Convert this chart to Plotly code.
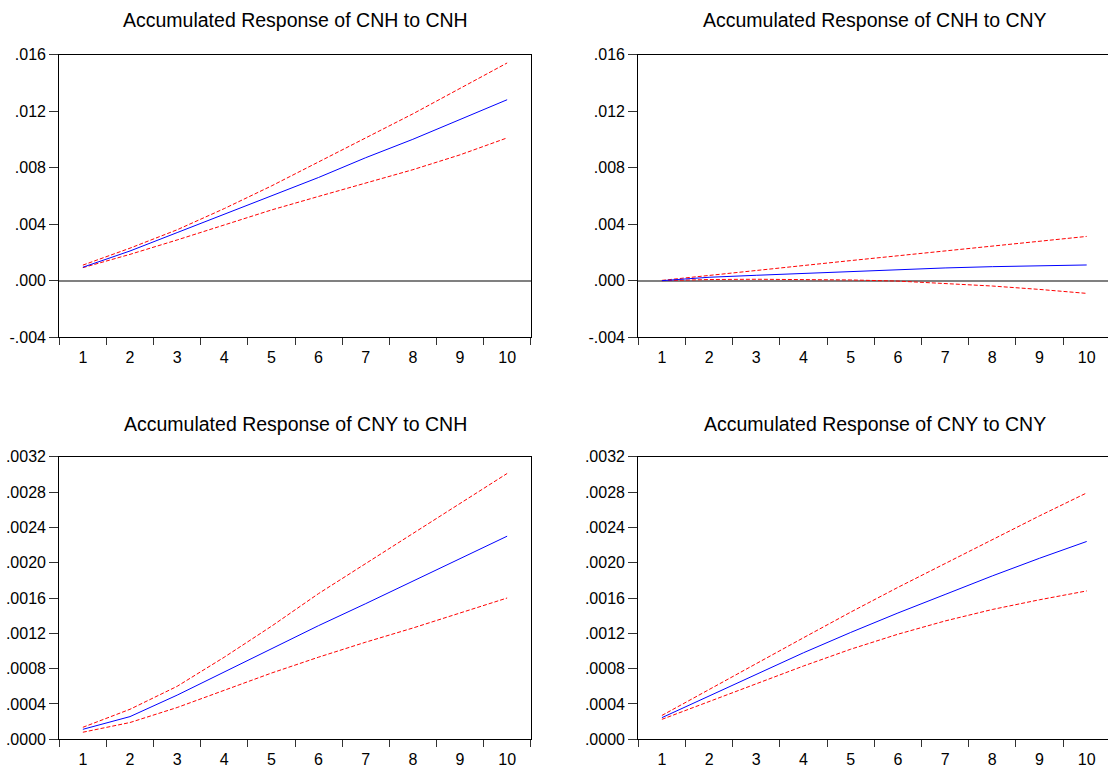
import plotly.graph_objects as go

periods = [str(i) for i in range(1, 11)]

# Accumulated Response of CNH to CNH
cnh_cnh_mid = [0.00095, 0.0021, 0.0034, 0.0047, 0.0060, 0.0073, 0.0087, 0.0100, 0.0114, 0.0128]
cnh_cnh_up = [0.0011, 0.0023, 0.0036, 0.0051, 0.0067, 0.0084, 0.0101, 0.0118, 0.0136, 0.0154]
cnh_cnh_lo = [0.00092, 0.00186, 0.00288, 0.00394, 0.0050, 0.00596, 0.00691, 0.00785, 0.0089, 0.0101]

# Accumulated Response of CNH to CNY
cnh_cny_mid = [0.0, 0.00024, 0.00038, 0.00052, 0.00066, 0.0008, 0.0009, 0.00099, 0.00106, 0.00111]
cnh_cny_up = [0.00002, 0.00038, 0.00073, 0.00108, 0.00142, 0.00176, 0.0021, 0.00245, 0.0028, 0.00313]
cnh_cny_lo = [0.0, 0.00008, 0.0001, 0.00009, 0.00005, -0.00003, -0.00018, -0.00038, -0.00062, -0.0009]

# Accumulated Response of CNY to CNH
cny_cnh_mid = [0.000113, 0.000257, 0.0005, 0.000762, 0.001026, 0.001287, 0.001536, 0.00179, 0.00205, 0.0023]
cny_cnh_up = [0.000136, 0.00034, 0.0006, 0.00093, 0.00128, 0.00165, 0.00199, 0.00233, 0.00267, 0.00301]
cny_cnh_lo = [0.00008, 0.00019, 0.00036, 0.000555, 0.00075, 0.00093, 0.0011, 0.00126, 0.00143, 0.0016]

# Accumulated Response of CNY to CNY
cny_cny_mid = [0.000245, 0.00049, 0.000735, 0.00098, 0.00121, 0.00143, 0.00164, 0.00185, 0.00205, 0.00224]
cny_cny_up = [0.00027, 0.00056, 0.000857, 0.00115, 0.00144, 0.00172, 0.00199, 0.00226, 0.00253, 0.00279]
cny_cny_lo = [0.000226, 0.00043, 0.00063, 0.00083, 0.00102, 0.00119, 0.00134, 0.00147, 0.00158, 0.00168]

titles = ["Accumulated Response of CNH to CNH", "Accumulated Response of CNH to CNY",
          "Accumulated Response of CNY to CNH", "Accumulated Response of CNY to CNY"]

top_ticks = [-0.004, 0.0, 0.004, 0.008, 0.012, 0.016]
top_ticktext = ["-.004", ".000", ".004", ".008", ".012", ".016"]
bot_ticks = [0.0, 0.0004, 0.0008, 0.0012, 0.0016, 0.0020, 0.0024, 0.0028, 0.0032]
bot_ticktext = [".0000", ".0004", ".0008", ".0012", ".0016", ".0020", ".0024", ".0028", ".0032"]

panels = [
    (cnh_cnh_mid, cnh_cnh_up, cnh_cnh_lo),
    (cnh_cny_mid, cnh_cny_up, cnh_cny_lo),
    (cny_cnh_mid, cny_cnh_up, cny_cnh_lo),
    (cny_cny_mid, cny_cny_up, cny_cny_lo),
]

W, H = 1108, 772
xdom_left = [59.3 / W, 530.7 / W]
xdom_right = [638.3 / W, 1.0]
ydom_top = [1 - 337.2 / H, 1 - 54.5 / H]
ydom_bot = [1 - 739.3 / H, 1 - 456.7 / H]

doms = [(xdom_left, ydom_top), (xdom_right, ydom_top), (xdom_left, ydom_bot), (xdom_right, ydom_bot)]

fig = go.Figure()
font_family = "Liberation Sans, Arial, sans-serif"

for i, (mid, up, lo) in enumerate(panels):
    n = i + 1
    xa = "x" if n == 1 else f"x{n}"
    ya = "y" if n == 1 else f"y{n}"
    for series, color, dash in [(up, "#FF0000", "4px,2px"), (lo, "#FF0000", "4px,2px"), (mid, "#0000FF", "solid")]:
        fig.add_trace(go.Scatter(x=periods, y=series, mode="lines", xaxis=xa, yaxis=ya,
                                 line=dict(color=color, width=1, dash=dash), showlegend=False,
                                 hoverinfo="skip"))
    xd, yd = doms[i]
    right = i in (1, 3)
    top = i in (0, 1)
    xr = [-0.5, 9.5] if not right else [-0.5, -0.5 + (W - 638.3) / 47.2]
    xaxis = dict(domain=xd, anchor=ya, type="category", automargin=False,
                 range=xr, tickson="boundaries", ticks="outside", ticklen=7, tickcolor="#333",
                 tickwidth=1, showline=True, linecolor="black", linewidth=1.3, mirror=True,
                 showgrid=False, zeroline=False, ticklabelstandoff=5,
                 tickfont=dict(family=font_family, size=16, color="black"),
                 fixedrange=True)
    yaxis = dict(domain=yd, anchor=xa, range=[-0.004, 0.016] if top else [0, 0.0032], automargin=False,
                 tickmode="array", tickvals=top_ticks if top else bot_ticks,
                 ticktext=top_ticktext if top else bot_ticktext,
                 ticks="outside", ticklen=9, tickcolor="#333", tickwidth=1,
                 showline=True, linecolor="black", linewidth=1.3, mirror=(not right),
                 showgrid=False, zeroline=top, zerolinecolor="#808080", zerolinewidth=2,
                 tickfont=dict(family=font_family, size=16, color="black"), fixedrange=True)
    key = "" if n == 1 else str(n)
    fig.layout["xaxis" + key] = xaxis
    fig.layout["yaxis" + key] = yaxis

title_pos = [((59.3 + 530.7) / 2, 20.5), (874.5, 20.5),
             ((59.3 + 530.7) / 2, 424), (874.5, 424)]
for t, (cx, cy) in zip(titles, title_pos):
    fig.add_annotation(text=t, x=cx / W, y=1 - cy / H, xref="paper", yref="paper",
                       xanchor="center", yanchor="middle", showarrow=False,
                       font=dict(family=font_family, size=19.5, color="black"))

fig.update_layout(width=W, height=H, margin=dict(l=0, r=0, t=0, b=0, pad=0, autoexpand=False),
                  paper_bgcolor="white", plot_bgcolor="white", showlegend=False)

fig.write_html("out.html", config={"displayModeBar": False, "responsive": False},
               post_script="document.body.style.margin='0';document.body.style.overflow='hidden';")
